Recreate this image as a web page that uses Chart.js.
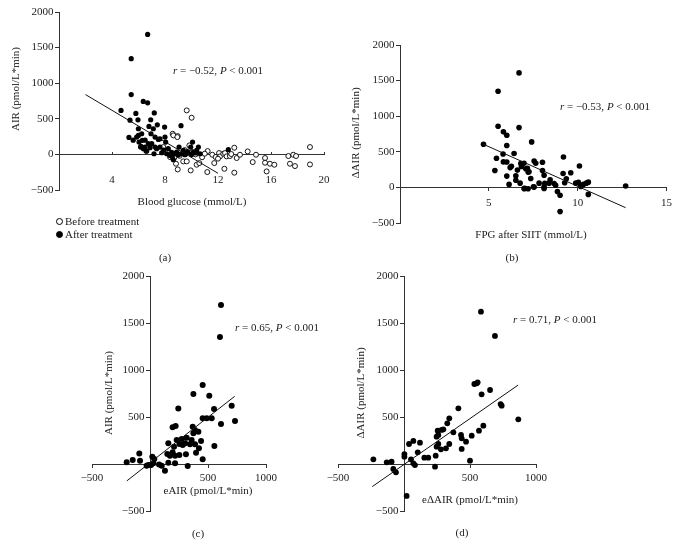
<!DOCTYPE html>
<html>
<head>
<meta charset="utf-8">
<script src="https://cdn.jsdelivr.net/npm/chart.js@4/dist/chart.umd.min.js"></script>
<style>
  html, body { margin:0; padding:0; background:#fff; }
  #wrap { position:relative; width:678px; height:555px; overflow:hidden; }
  canvas { position:absolute; left:0; top:0; }
  .t { position:absolute; transform:translate(-50%,-50%); white-space:nowrap;
       font-family:'Liberation Serif', 'DejaVu Serif', serif; font-size:11px; color:#222; }
  .r { transform:translate(-50%,-50%) rotate(-90deg); }
  .leg { position:absolute; transform:translateY(-50%); white-space:nowrap;
       font-family:'Liberation Serif', serif; font-size:11px; color:#222; }
  .mk { display:inline-block; width:5px; height:5px; border:1px solid #000; border-radius:50%;
        margin-right:2px; vertical-align:middle; position:relative; top:-1px; }
</style>
</head>
<body>
<div id="wrap">
  <canvas id="ca" width="678" height="555"></canvas>
  <canvas id="cb" width="678" height="555"></canvas>
  <canvas id="cc" width="678" height="555"></canvas>
  <canvas id="cd" width="678" height="555"></canvas>

  <!-- panel (a) -->
  <div class="t r" style="left:15px;top:89px">AIR (pmol/L*min)</div>
  <div class="t" style="left:192px;top:201px">Blood glucose (mmol/L)</div>
  <div class="t" style="left:218px;top:70px"><i>r</i> = −0.52, <i>P</i> &lt; 0.001</div>
  <div class="leg" style="left:56px;top:221px"><span class="mk" style="background:#fff"></span>Before treatment</div>
  <div class="leg" style="left:56px;top:234px"><span class="mk" style="background:#000"></span>After treatment</div>
  <div class="t" style="left:165px;top:257px">(a)</div>

  <!-- panel (b) -->
  <div class="t r" style="left:355px;top:133px">ΔAIR (pmol/L*min)</div>
  <div class="t" style="left:531px;top:234px">FPG after SIIT (mmol/L)</div>
  <div class="t" style="left:605px;top:106px"><i>r</i> = −0.53, <i>P</i> &lt; 0.001</div>
  <div class="t" style="left:512px;top:257px">(b)</div>

  <!-- panel (c) -->
  <div class="t r" style="left:108px;top:393px">AIR (pmol/L*min)</div>
  <div class="t" style="left:208px;top:490px">eAIR (pmol/L*min)</div>
  <div class="t" style="left:277px;top:327px"><i>r</i> = 0.65, <i>P</i> &lt; 0.001</div>
  <div class="t" style="left:198px;top:533px">(c)</div>

  <!-- panel (d) -->
  <div class="t r" style="left:360px;top:393px">ΔAIR (pmol/L*min)</div>
  <div class="t" style="left:470px;top:499px">eΔAIR (pmol/L*min)</div>
  <div class="t" style="left:555px;top:319px"><i>r</i> = 0.71, <i>P</i> &lt; 0.001</div>
  <div class="t" style="left:462px;top:532px">(d)</div>
</div>
<script>
// ---------- Panel (a): AIR vs blood glucose ----------
const aBeforeX = [9.64,10.01,8.58,8.96,7.87,8.38,8.83,8.96,9.38,9.64,9.84,9.94,10.06,10.39,10.59,11.22,11.57,11.72,11.82,12.08,12.15,12.40,12.48,12.53,12.65,12.90,13.23,13.23,13.41,13.66,14.24,14.62,14.87,15.55,15.55,15.67,15.92,16.25,17.31,17.43,17.68,17.81,17.89,18.94,18.94,11.19,8.63,8.93,8.70,9.10,10.30,10.80,11.00,9.50,12.00,13.00];
const aBeforeY = [618,515,290,257,103,-37,-131,-211,-98,-98,126,-225,33,-145,-122,47,-5,-122,-37,19,-28,9,-202,19,-28,-23,94,-257,-51,-5,42,-108,-5,-51,-117,-239,-131,-145,-23,-131,-5,-164,-23,103,-141,-248,267,243,-47,-20,0,-40,10,60,-60,5];
const aAfterX = [6.69,5.45,5.45,6.36,6.69,4.68,5.80,7.19,5.36,5.96,6.92,6.79,7.42,7.97,9.21,5.28,5.99,5.99,6.24,6.29,6.94,7.12,7.25,7.62,8.00,8.05,6.49,6.74,7.25,5.86,6.04,6.16,6.62,7.17,7.37,7.62,7.75,8.13,8.25,8.38,8.63,8.88,9.06,9.21,9.38,9.58,9.94,10.08,10.14,10.39,10.64,10.52,12.78,8.50,9.00,9.70,10.30,7.90,8.70,6.50,7.00,5.60,10.00,9.50,6.19,6.37,6.57,7.50,6.87,8.55];
const aAfterY = [1685,1344,840,744,724,618,575,582,480,485,487,393,415,384,404,239,360,267,290,197,290,360,243,220,243,173,103,150,103,243,173,103,47,9,80,103,23,9,80,-14,-75,33,103,9,56,9,103,173,33,56,9,103,66,30,-10,40,20,60,10,200,150,200,0,-5,112,80,47,211,94,-33];
const aFitX = [2.0, 12.0];
const aFitY = [840, -265];
const aXTicks = [0, 4, 8, 12, 16, 20];
const aYTicks = [-500, 0, 500, 1000, 1500, 2000];

// ---------- Panel (b): ΔAIR vs FPG after SIIT ----------
const bX = [6.70,5.52,5.52,6.70,5.82,6.01,7.41,4.70,6.01,5.80,6.42,5.43,9.20,5.82,6.80,6.98,7.55,7.64,8.02,6.01,6.20,6.27,5.34,6.84,7.08,7.21,8.02,8.11,6.01,6.52,9.61,9.18,10.10,6.52,6.14,6.76,6.98,7.21,7.55,7.83,8.11,8.39,8.67,8.45,8.76,8.86,9.01,9.01,9.27,9.36,9.89,10.04,10.17,10.32,10.49,10.60,10.60,12.70,7.36,6.61,7.17,7.26,8.15,8.11,7.02,7.51];
const bY = [1608,1350,859,840,780,733,639,606,588,470,477,410,428,358,335,340,370,340,353,357,278,298,237,295,262,215,236,170,159,162,206,195,301,100,42,60,-17,-19,4,60,4,60,54,108,30,-58,-110,-340,65,122,60,70,14,42,60,74,-98,19,126,243,267,220,56,-14,-14,9];
const bFitX = [4.7, 12.7];
const bFitY = [605, -285];
const bXTicks = [0, 5, 10, 15];
const bYTicks = [-500, 0, 500, 1000, 1500, 2000];

// ---------- Panel (c): AIR vs eAIR ----------
const cX = [612,603,454,374,511,244,704,552,454,489,532,733,612,195,221,368,388,417,316,273,230,253,207,158,374,359,345,388,440,555,302,282,195,149,172,216,253,310,397,422,454,325,158,216,129,101,78,29,20,37,-14,9,-29,-92,-86,-149,-201];
const cY = [1691,1352,840,745,727,590,621,585,486,486,486,457,426,390,404,397,362,344,280,266,255,213,184,220,326,255,209,209,245,191,220,202,124,106,89,89,96,103,121,167,50,-21,14,7,-71,-18,-4,7,78,53,-11,-11,-18,113,35,43,18];
const cFitX = [-200, 730];
const cFitY = [-180, 720];
const cXTicks = [-500, 0, 500, 1000];
const cYTicks = [-500, 0, 500, 1000, 1500, 2000];

// ---------- Panel (d): ΔAIR vs eΔAIR ----------
const dX = [583,689,533,551,558,652,588,732,740,866,412,343,328,298,285,255,260,247,374,343,432,437,470,513,601,568,437,280,318,247,260,240,121,184,154,104,71,38,235,3,3,53,71,83,500,-61,-81,-94,-131,-232,20];
const dY = [1621,1362,851,858,869,787,741,638,621,475,592,486,433,369,362,355,309,291,337,213,309,273,238,301,408,355,160,156,167,184,213,89,227,67,67,124,245,213,-28,106,78,50,7,-11,35,-89,-53,25,18,50,-340];
const dFitX = [-240, 865];
const dFitY = [-240, 840];
const dXTicks = [-500, 0, 500, 1000];
const dYTicks = [-500, 0, 500, 1000, 1500, 2000];

// ---------- helpers ----------
const FONT = {family: "'Liberation Serif', 'DejaVu Serif', serif", size: 11};
const AX = '#333';
const pts = (xs, ys) => xs.map((x, i) => ({x, y: ys[i]}));
const fmt = v => v < 0 ? '\u2212' + Math.abs(v) : String(v);

function axis(ticks, min, max, position, hideZero, pad, tickLen, suffix) {
  return {
    type: 'linear', min, max, position,
    afterBuildTicks: s => { s.ticks = ticks.map(v => ({value: v})); },
    grid: {display: true, drawOnChartArea: false, drawTicks: true, tickLength: tickLen, color: AX, lineWidth: 1},
    border: {display: true, color: AX, width: 1},
    ticks: {font: FONT, color: '#222', padding: pad, autoSkip: false, maxRotation: 0,
            callback: v => (hideZero && v === 0) ? '' : fmt(v) + (suffix || '')}
  };
}

function panel(id, datasets, pad, xs, ys) {
  new Chart(document.getElementById(id), {
    type: 'scatter',
    data: {datasets},
    options: {
      responsive: false, animation: false, events: [],
      layout: {padding: pad},
      plugins: {legend: {display: false}, tooltip: {enabled: false}},
      scales: {x: xs, y: ys}
    }
  });
}

function fitSet(xs, ys) {
  return {data: pts(xs, ys), showLine: true, borderColor: '#111', borderWidth: 1,
          pointRadius: 0, fill: false, clip: false};
}
function dotSet(xs, ys, r) {
  return {data: pts(xs, ys), pointRadius: r, backgroundColor: '#000', borderColor: '#000',
          borderWidth: 0, pointHoverRadius: r};
}

const YSP = '\u2002';   // gap between y tick label and axis

// (a)
panel('ca', [
  fitSet(aFitX, aFitY),
  dotSet(aAfterX, aAfterY, 2.6),
  {data: pts(aBeforeX, aBeforeY), pointRadius: 2.5, backgroundColor: '#fff', borderColor: '#000', borderWidth: 0.9}
], {left: 59, right: 354, top: 12, bottom: 365},
  axis(aXTicks, 0, 20, {y: 0}, true, 22, -3),
  axis(aYTicks, -500, 2000, {x: 0}, false, 2, 4, YSP));

// (b)
panel('cb', [
  fitSet(bFitX, bFitY),
  dotSet(bX, bY, 2.8)
], {left: 400, right: 11, top: 45, bottom: 332},
  axis(bXTicks, 0, 15, {y: 0}, true, 6, 3),
  axis(bYTicks, -500, 2000, {x: 0}, false, 2, 4, YSP));

// (c)
panel('cc', [
  fitSet(cFitX, cFitY),
  dotSet(cX, cY, 3.0)
], {left: 92, right: 412, top: 276, bottom: 44},
  axis(cXTicks, -500, 1000, {y: 0}, true, 5, 3),
  axis(cYTicks, -500, 2000, {x: 0}, true, 3, 4, YSP));

// (d)
panel('cd', [
  fitSet(dFitX, dFitY),
  dotSet(dX, dY, 2.9)
], {left: 338, right: 142, top: 276, bottom: 44},
  axis(dXTicks, -500, 1000, {y: 0}, true, 5, 3),
  axis(dYTicks, -500, 2000, {x: 0}, true, 3, 4, YSP));
</script>
</body>
</html>
